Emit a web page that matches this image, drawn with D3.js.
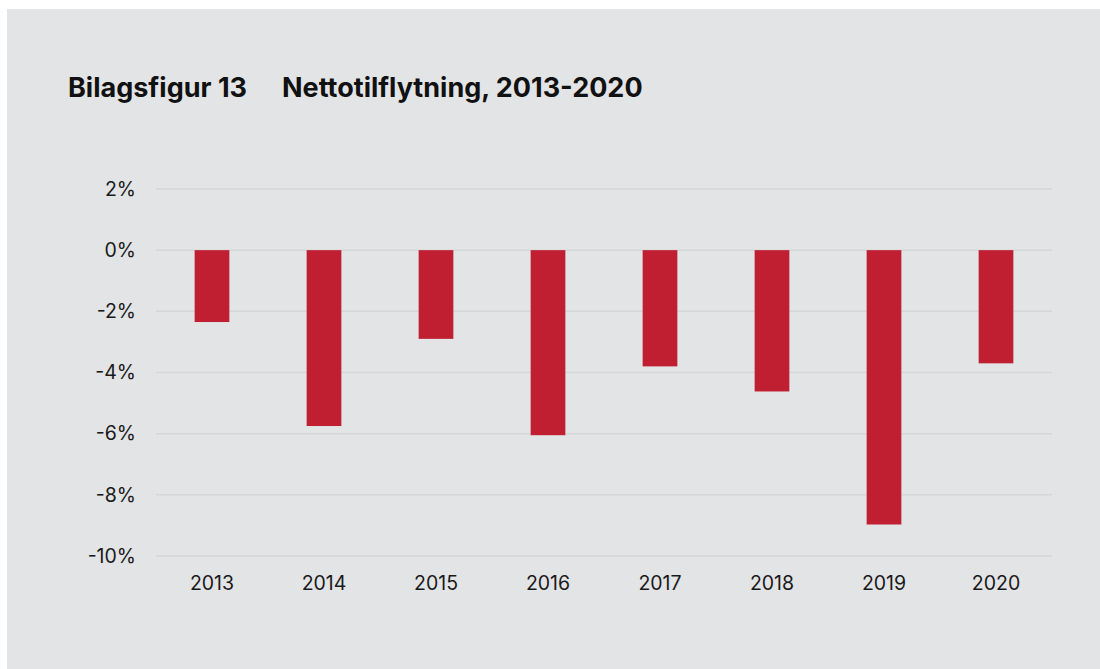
<!DOCTYPE html>
<html>
<head>
<meta charset="utf-8">
<script src="https://cdn.jsdelivr.net/npm/d3@7"></script>
<style>
  html, body { margin: 0; padding: 0; background: #ffffff; }
  svg { display: block; }
</style>
</head>
<body>
<svg id="chart" width="1100" height="669"></svg>
<script>
const years = ["2013", "2014", "2015", "2016", "2017", "2018", "2019", "2020"];
const values = [-2.35, -5.75, -2.9, -6.05, -3.8, -4.62, -8.97, -3.7];
const yTicks = [2, 0, -2, -4, -6, -8, -10];

const width = 1100;
const height = 669;
const margin = { top: 189, right: 48, bottom: 113, left: 156 };

const svg = d3.select("#chart");

svg.append("rect")
    .attr("x", 7).attr("y", 9)
    .attr("width", width - 7).attr("height", height - 9)
    .attr("fill", "#e3e4e6");

const title = svg.append("text")
    .attr("y", 97)
    .attr("font-family", "Inter, 'Noto Sans', sans-serif")
    .attr("font-size", 27)
    .attr("font-weight", 700)
    .attr("fill", "#111");
title.append("tspan").attr("x", 68).text("Bilagsfigur 13");
title.append("tspan").attr("x", 282).text("Nettotilflytning, 2013-2020");

const x = d3.scaleBand()
    .domain(years)
    .range([margin.left, width - margin.right])
    .paddingInner(0.69)
    .paddingOuter(0.345);

const y = d3.scaleLinear()
    .domain([-10, 2])
    .range([height - margin.bottom, margin.top]);

// grid
svg.append("g")
    .selectAll("line")
    .data(yTicks)
    .join("line")
    .attr("x1", margin.left)
    .attr("x2", width - margin.right)
    .attr("y1", d => y(d))
    .attr("y2", d => y(d))
    .attr("stroke", "#d5d6d8")
    .attr("stroke-width", 1.5);

// y axis labels
const yAxis = svg.append("g")
    .attr("transform", `translate(${margin.left},0)`)
    .call(d3.axisLeft(y).tickValues(yTicks).tickSize(0).tickPadding(20).tickFormat(d => d + "%"));
yAxis.select(".domain").remove();
yAxis.selectAll("text")
    .attr("font-family", "Inter, 'Noto Sans', sans-serif")
    .attr("font-size", 19.5)
    .attr("fill", "#1a1a1a");

// bars
svg.append("g")
    .selectAll("rect")
    .data(values)
    .join("rect")
    .attr("x", (d, i) => x(years[i]))
    .attr("width", x.bandwidth())
    .attr("y", d => y(Math.max(0, d)))
    .attr("height", d => Math.abs(y(d) - y(0)))
    .attr("fill", "#c01f32");

// x axis labels
const xAxis = svg.append("g")
    .attr("transform", `translate(0,${height - margin.bottom})`)
    .call(d3.axisBottom(x).tickSize(0).tickPadding(20));
xAxis.select(".domain").remove();
xAxis.selectAll("text")
    .attr("font-family", "Inter, 'Noto Sans', sans-serif")
    .attr("font-size", 19.5)
    .attr("fill", "#1a1a1a");
</script>
</body>
</html>
